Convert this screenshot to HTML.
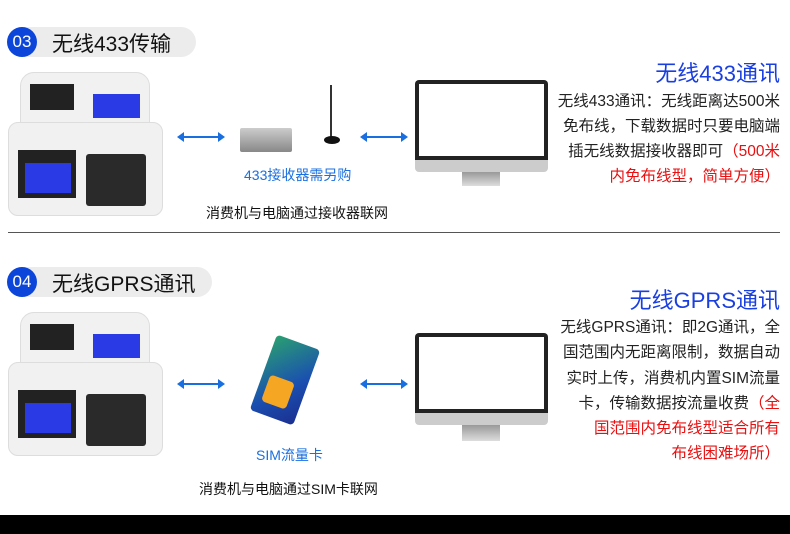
<!DOCTYPE html>
<html><head><meta charset="utf-8"><style>
*{margin:0;padding:0;box-sizing:border-box}
body{width:790px;height:534px;background:#fff;position:relative;overflow:hidden;font-family:"Liberation Sans","Noto Sans CJK SC",sans-serif;color:#222}
.a{position:absolute}
.pill{background:#ececec;border-radius:15px;height:30px}
.circ{background:#0b45d9;border-radius:50%;width:30px;height:30px;color:#fff;font-size:17px;text-align:center;line-height:30px}
.ht{font-size:21px;color:#111;white-space:nowrap}
.rt{right:10px;text-align:right;font-size:15.5px;line-height:25px;white-space:nowrap}
.red{color:#e81010}
.blue{color:#1a3fe0}
.arr{height:2px;background:#1a6fe0}
.arr:before,.arr:after{content:"";position:absolute;top:-4px;border:5px solid transparent}
.arr:before{left:-6px;border-right:7px solid #1a6fe0;border-left:0}
.arr:after{right:-6px;border-left:7px solid #1a6fe0;border-right:0}
.dev{border-radius:10px;background:#f1f1f1;border:1px solid #ddd}
.scr{background:#2a3be6}
</style></head><body>

<!-- section 1 -->
<div class="a pill" style="left:8px;top:27px;width:188px"></div>
<div class="a circ" style="left:7px;top:27px">03</div>
<div class="a ht" style="left:52px;top:28px">无线433传输</div>

<div class="a dev" style="left:20px;top:72px;width:130px;height:62px;border-radius:14px 14px 0 0"></div>
<div class="a dev" style="left:8px;top:122px;width:155px;height:94px"></div>
<div class="a" style="left:30px;top:84px;width:44px;height:26px;background:#222"></div>
<div class="a scr" style="left:93px;top:94px;width:47px;height:24px"></div>
<div class="a" style="left:18px;top:150px;width:58px;height:48px;background:#222"></div>
<div class="a scr" style="left:25px;top:163px;width:46px;height:30px"></div>
<div class="a" style="left:86px;top:154px;width:60px;height:52px;background:#2a2a2a;border-radius:3px"></div>

<div class="a arr" style="left:183px;top:136px;width:36px"></div>
<div class="a" style="left:240px;top:128px;width:52px;height:24px;background:linear-gradient(#ccc,#888);border-radius:2px"></div>
<div class="a" style="left:330px;top:85px;width:2px;height:55px;background:#333"></div>
<div class="a" style="left:324px;top:136px;width:16px;height:8px;background:#111;border-radius:50%"></div>
<div class="a blue" style="left:244px;top:165px;font-size:14px;color:#1a6fe0">433接收器需另购</div>
<div class="a" style="left:206px;top:203px;font-size:14px;color:#111">消费机与电脑通过接收器联网</div>

<div class="a arr" style="left:366px;top:136px;width:36px"></div>
<div class="a" style="left:415px;top:80px;width:133px;height:90px;background:#222;border-radius:4px"></div>
<div class="a" style="left:419px;top:84px;width:125px;height:72px;background:#fff"></div>
<div class="a" style="left:415px;top:160px;width:133px;height:12px;background:#ccc;border-radius:0 0 4px 4px"></div>
<div class="a" style="left:462px;top:172px;width:38px;height:14px;background:linear-gradient(#999,#ddd)"></div>

<div class="a blue" style="right:10px;top:56px;font-size:22px">无线433通讯</div>
<div class="a rt" style="top:89px">无线433通讯：无线距离达500米</div>
<div class="a rt" style="top:114px">免布线，下载数据时只要电脑端</div>
<div class="a rt" style="top:139px">插无线数据接收器即可<span class="red">（500米</span></div>
<div class="a rt red" style="top:164px">内免布线型，简单方便）</div>

<div class="a" style="left:8px;top:232px;width:772px;height:1px;background:#555"></div>

<!-- section 2 -->
<div class="a pill" style="left:8px;top:267px;width:204px"></div>
<div class="a circ" style="left:7px;top:267px">04</div>
<div class="a ht" style="left:52px;top:268px">无线GPRS通讯</div>

<div class="a dev" style="left:20px;top:312px;width:130px;height:62px;border-radius:14px 14px 0 0"></div>
<div class="a dev" style="left:8px;top:362px;width:155px;height:94px"></div>
<div class="a" style="left:30px;top:324px;width:44px;height:26px;background:#222"></div>
<div class="a scr" style="left:93px;top:334px;width:47px;height:24px"></div>
<div class="a" style="left:18px;top:390px;width:58px;height:48px;background:#222"></div>
<div class="a scr" style="left:25px;top:403px;width:46px;height:30px"></div>
<div class="a" style="left:86px;top:394px;width:60px;height:52px;background:#2a2a2a;border-radius:3px"></div>

<div class="a arr" style="left:183px;top:383px;width:36px"></div>
<div class="a" style="left:262px;top:340px;width:46px;height:80px;background:linear-gradient(135deg,#2aa070,#1a4fb0 60%,#1b2f90);transform:rotate(20deg);border-radius:4px"></div>
<div class="a" style="left:265px;top:378px;width:26px;height:28px;background:#f5a623;border-radius:4px;transform:rotate(20deg)"></div>
<div class="a" style="left:256px;top:445px;font-size:14px;color:#1a6fe0">SIM流量卡</div>
<div class="a" style="left:199px;top:479px;font-size:14px;color:#111">消费机与电脑通过SIM卡联网</div>

<div class="a arr" style="left:366px;top:383px;width:36px"></div>
<div class="a" style="left:415px;top:333px;width:133px;height:90px;background:#222;border-radius:4px"></div>
<div class="a" style="left:419px;top:337px;width:125px;height:72px;background:#fff"></div>
<div class="a" style="left:415px;top:413px;width:133px;height:12px;background:#ccc;border-radius:0 0 4px 4px"></div>
<div class="a" style="left:462px;top:425px;width:38px;height:16px;background:linear-gradient(#999,#ddd)"></div>

<div class="a blue" style="right:10px;top:283px;font-size:22px">无线GPRS通讯</div>
<div class="a rt" style="top:315px">无线GPRS通讯：即2G通讯，全</div>
<div class="a rt" style="top:340px">国范围内无距离限制，数据自动</div>
<div class="a rt" style="top:366px">实时上传，消费机内置SIM流量</div>
<div class="a rt" style="top:391px">卡，传输数据按流量收费<span class="red">（全</span></div>
<div class="a rt red" style="top:416px">国范围内免布线型适合所有</div>
<div class="a rt red" style="top:441px">布线困难场所）</div>

<div class="a" style="left:0;top:515px;width:790px;height:19px;background:#000"></div>
</body></html>
